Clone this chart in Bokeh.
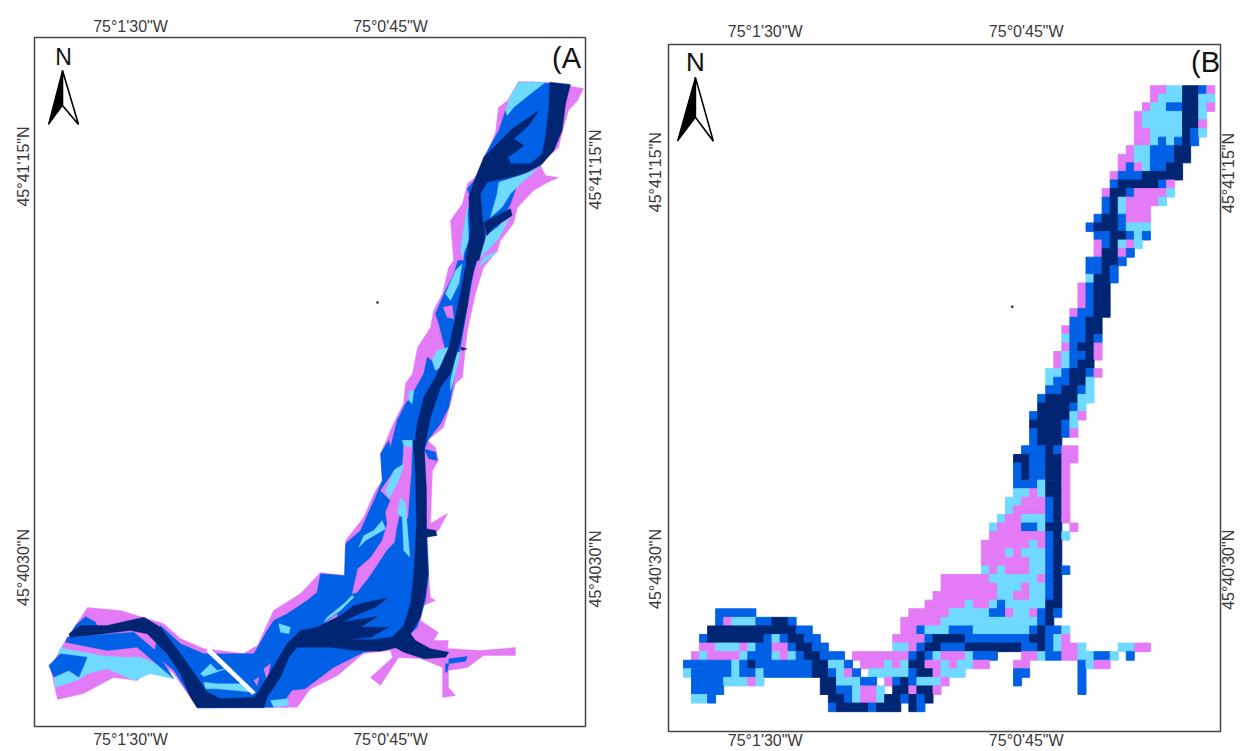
from bokeh.core.properties import value
from bokeh.embed import file_html
from bokeh.layouts import row, column
from bokeh.models import ColumnDataSource, FixedTicker, LinearAxis, Range1d
from bokeh.plotting import figure
from bokeh.resources import INLINE
import math

PINK, CYAN, BLUE, NAVY = "#E47BF6", "#70D9FF", "#0061E6", "#002673"
FONT = "Liberation Sans"
CLASS_COLOR = {"p": PINK, "c": CYAN, "b": BLUE, "n": NAVY}

A_LON_TICKS, A_LON_LABELS = [130, 390], ["75°1'30\"W", "75°0'45\"W"]
A_LAT_TICKS, A_LAT_LABELS = [166, 567], ["45°41'15\"N", "45°4030\"N"]
A_RIGHT_TICKS, A_RIGHT_LABELS = [209, 607], ["45°41'15\"N", "45°4030\"N"]
B_LON_TICKS, B_LON_LABELS = [765, 1027], ["75°1'30\"W", "75°0'45\"W"]
B_LAT_TICKS, B_LAT_LABELS = [172, 570], ["45°41'15\"N", "45°40'30\"N"]
B_RIGHT_TICKS, B_RIGHT_LABELS = [213, 611], ["45°41'15\"N", "45°40'30\"N"]


def crop(ox, oy, pts):
    return [(ox + x / 3, oy + y / 3) for x, y in pts]


def z2(pts): return crop(430, 60, pts)
def z3(pts): return crop(370, 250, pts)
def z4(pts): return crop(320, 440, pts)
def z5(pts): return crop(40, 590, pts)


# ---- Panel A: classified zones ----
A_SILHOUETTE = [(518,81),(550,82),(583,88),(577,100),(568,110),(563,127),(558,147),(547,157),(540,165),(545,175),(558,177),(547,182),(533,190),(517,207),(513,223),(500,240),(497,250),(483,267),(475,293),(467,330),(465,347),(462,377),(455,383),(450,403),(443,427),(427,440),(435,447),(438,460),(432,470),(430,523),(447,513),(438,530),(427,537),(428,573),(430,597),(435,600),(423,605),(420,620),(438,632),(433,640),(448,640),(447,648),(480,650),(515,647),(515,655),(483,655),(467,667),(448,670),(448,687),(455,695),(442,697),(442,667),(420,658),(398,657),(380,685),(370,677),(392,657),(390,650),(363,653),(337,675),(307,690),(287,707),(197,707),(187,693),(173,673),(157,660),(137,680),(113,677),(83,693),(57,699),(55,690),(50,667),(63,643),(83,613),(87,607),(120,610),(143,617),(163,623),(180,638),(203,648),(243,653),(257,645),(273,610),(300,593),(320,572),(344,575),(345,540),(363,517),(375,490),(382,480),(380,453),(393,423),(403,403),(405,383),(412,373),(417,347),(430,327),(433,310),(442,293),(448,267),(453,260),(450,220),(462,203),(467,183),(477,175),(495,132),(498,107),(507,100)]

A_BLUE_BODY = (
    z2([(300,65),(415,72),(405,130),(385,200),(365,270),(330,315),(270,345),(240,430),(215,480),(165,560),(140,600)])
    + z3([(310,60),(290,170),(270,290),(250,390),(235,470),(210,520),(175,565)])
    + z4([(310,30),(318,280),(325,400),(315,480),(290,560),(250,600),(210,625),(130,635),(40,680)])
    + z5([(800,290),(745,335),(700,350),(470,352),(445,310),(400,240),(340,190),(360,105),(420,160),(490,190),(600,190),(640,190),(680,120),(700,90),(740,70),(800,30),(830,5)])
    + z4([(0,400),(72,405),(75,310),(120,270),(165,170),(185,120),(180,40),(205,0)])
    + z3([(60,590),(80,510),(105,460),(120,440),(160,370),(170,320),(190,335),(225,300),(205,220),(195,190),(225,120),(250,70),(262,30)])
    + z2([(100,600),(105,500),(120,410),(110,385),(140,350),(160,290),(205,210),(225,150),(280,85)])
)

A_CYAN_PATCHES = [
    z2([(265,65),(345,65),(300,100),(250,140),(230,165),(225,150),(240,105)]),
    z2([(205,365),(270,345),(325,325),(280,360),(240,400),(215,440),(180,470),(200,400)]),
    z2([(100,500),(110,440),(115,540),(95,590),(90,570)]),
    z2([(160,530),(215,490),(240,470),(200,540),(150,590),(145,590)]),
    z3([(255,60),(275,40),(265,100),(240,150),(225,130)]),
    z3([(340,20),(385,0),(325,50)]),
    z3([(200,300),(235,290),(225,340),(195,360),(185,330)]),
    z3([(115,420),(130,420),(125,460),(115,450)]),
    z3([(100,570),(125,570),(125,590),(100,600)]),
    z3([(260,305),(270,305),(250,390),(240,420),(240,390)]),
    z4([(115,320),(130,285),(160,270),(185,240),(195,265),(170,280),(135,300)]),
    z4([(20,530),(70,490),(95,465),(100,470),(60,510),(10,545)]),
    z5([(480,250),(510,220),(530,240),(570,230),(490,258)]),
    z5([(490,275),(530,280),(620,280),(640,305),(530,295),(495,295)]),
    z5([(715,100),(750,110),(745,130),(720,125)]),
    z5([(60,170),(200,195),(300,200),(350,220),(400,265),(330,250),(280,270),(200,235),(140,250),(110,270),(45,290),(40,260),(55,190)]),
]

A_PINK_PATCHES = [
    z3([(218,170),(245,165),(250,205),(230,200)]),
    z4([(250,15),(275,20),(272,100),(268,145),(262,230),(255,240),(240,210),(228,265),(222,305),(198,330),(175,365),(145,410),(110,455),(95,460),(112,385),(150,352),(185,300),(200,250),(195,215),(210,180),(180,150),(215,100),(230,80),(245,85)]),
    z5([(70,165),(180,180),(190,195),(75,175)]),
    z5([(190,175),(280,195),(270,200),(190,195)]),
    z5([(280,145),(340,185),(290,160)]),
    z5([(640,270),(655,260),(650,285)]),
    z5([(670,235),(690,220),(680,270)]),
    z5([(850,100),(890,70),(890,80)]),
    z5([(755,300),(810,295),(770,350),(720,350)]),
]

A_SECOND_CYAN = [
    z4([(245,0),(275,0),(270,20),(250,15)]),
    z4([(220,90),(250,70),(235,120),(205,175),(195,150)]),
    z4([(240,170),(255,190),(262,280),(268,350),(250,330),(245,230),(230,220)]),
    z5([(690,330),(740,325),(745,345),(700,350)]),
]

A_BLUE_PATCHES = [
    z5([(105,105),(135,78),(165,95),(170,105),(90,130)]),
    z5([(80,140),(280,125),(345,180),(400,265),(290,170),(200,180),(75,155)]),
    z5([(25,225),(60,190),(140,200),(130,225),(115,260),(85,240),(40,260)]),
    z4([(310,25),(345,35),(350,60),(325,55)]),
    z4([(385,655),(440,648),(435,662),(385,670)]),
    z4([(375,670),(385,670),(380,695),(375,695)]),
]

A_NAVY = [
    z2([(358,65),(420,72),(405,130),(395,210),(370,270),(335,310),(290,335),(240,350),(170,365),(150,400),(155,470),(165,530),(145,600),(105,600),(120,510),(115,410),(135,350),(160,290),(175,282),(230,280),(240,310),(300,310),(335,280),(345,230),(355,140)]),
    z2([(160,290),(210,240),(245,205),(325,150),(295,195),(250,235),(280,255),(240,285),(180,285)]),
    z2([(160,485),(240,445),(245,465),(190,500),(170,525)]),
    z3([(295,0),(275,100),(255,200),(235,290),(195,380),(160,440),(140,520),(130,600),(160,600),(180,500),(210,410),(240,370),(270,270),(290,170),(300,100),(325,0)]),
    z3([(270,290),(290,295),(275,300)]),
    z4([(0,555),(60,525),(100,495),(140,485),(200,473),(165,500),(105,525),(65,545),(170,528),(120,560),(205,560),(150,590),(80,597),(150,598),(215,590),(250,555),(270,490),(280,400),(288,250),(285,100),(278,0),(310,0),(318,150),(318,290),(322,400),(315,460),(300,530),(270,580),(285,600),(330,625),(385,635),(375,650),(310,655),(250,635),(225,622),(180,632),(100,630),(0,615)]),
    z4([(318,265),(345,270),(350,285),(318,290)]),
    z5([(900,85),(830,110),(780,120),(740,160),(710,210),(680,260),(650,310),(640,320),(540,325),(500,305),(470,260),(420,190),(360,110),(310,80),(200,105),(120,105),(85,130),(90,140),(190,130),(270,120),(320,130),(380,190),(420,250),(450,320),(470,352),(670,352),(680,320),(720,260),(745,200),(770,170),(900,170)]),
]

A_STRIPE = z5([(500,175),(510,175),(645,305),(635,312),(500,185)])
A_DOT = [(377, 302)]

A_ARROW_LEFT = [(62,70),(48,124),(62,105)]
A_ARROW_RIGHT = [(62,70),(78,124),(62,105)]
B_ARROW_LEFT = [(695,77),(677,141),(695,117)]
B_ARROW_RIGHT = [(695,77),(713,141),(695,117)]

# ---- Panel B: classified raster, (first column, cells) for each row ----
B_X0, B_DX, B_Y0, B_DY = 683.0, 8.08, 85.3, 8.6
B_ROWS = [
    [(58,"ppccnnbp")],
    [(58,"pcccnncc")],
    [(57,"pccbbnncp")],
    [(56,"pcccccnnc")],
    [(56,"pcccccnnp")],
    [(56,"ppccccnbc")],
    [(56,"ppcbcbnb")],
    [(55,"pccbbbnn")],
    [(54,"ppccbbbnn")],
    [(54,"pbpcbbnn")],
    [(53,"pbbbnnnnn")],
    [(53,"bnnnnnbp")],
    [(52,"pnnbppppc")],
    [(52,"bncppppc")],
    [(52,"bncppp")],
    [(51,"bnnbppp")],
    [(50,"bnnnbccc")],
    [(51,"bbnnbcb")],
    [(51,"pbncpc")],
    [(51,"pnnpb")],
    [(50,"bbnnb")],
    [(50,"bbnb")],
    [(50,"cnnb")],
    [(49,"pbnn")],
    [(49,"pbnn")],
    [(49,"pbnn")],
    [(48,"pbbnn")],
    [(48,"bbnn")],
    [(47,"pbbnn")],
    [(47,"cbbnb")],
    [(47,"pbnnp")],
    [(46,"pcbbnp")],
    [(46,"pcbnn")],
    [(45,"ccbnnbp")],
    [(45,"cbbnnc")],
    [(45,"bbnnbc")],
    [(44,"bnnnncc")],
    [(44,"nnnnbc")],
    [(43,"bnnnncp")],
    [(43,"nnnnbc")],
    [(43,"bnnnbp")],
    [(43,"bnnn")],
    [(42,"bbbnbpp")],
    [(41,"nnbbnnpp")],
    [(41,"bnbbnnp")],
    [(41,"bnbbnnp")],
    [(41,"bbbcnnp")],
    [(41,"ccpcnnp")],
    [(40,"ccpppbnp")],
    [(40,"cppppbnp")],
    [(39,"cppcccbnp")],
    [(38,"cpppbbcnn"),(48,"p")],
    [(38,"pppppppbnc")],
    [(37,"ppppppcpbn")],
    [(37,"pppcpcccbn")],
    [(37,"ppppppccbn")],
    [(37,"cpcpppccbnb")],
    [(32,"ppppppccccccpbn")],
    [(32,"pppppppcccpccbn")],
    [(31,"ppppppppccppccbn")],
    [(30,"pppppcppcbcccccnn")],
    [(4,"bbbbb"),(28,"pppppcccccbbpccpbnb")],
    [(4,"bpcccbbnnb"),(27,"pppppccccccccccccbn")],
    [(3,"nnnnnnnnnnnbb"),(27,"ppbcccbbbcccccccbnbbc")],
    [(2,"bnnnnnnnbcbnnbb"),(26,"ppppbnnnnbbbbbbbbnnbcp")],
    [(2,"ppcccpcbbppbnnbb"),(26,"ccpbnnbbbnnnnnnnbbnbcppc"),(54,"ccpp")],
    [(1,"pcppppcbbbcpcbnnbbb"),(21,"ppppppp"),(28,"bnbcpppcbbb"),(42,"ppcbbppccbbc"),(55,"b")],
    [(0,"bbbbbbcbnbbbbbbbnncc"),(20,"b"),(22,"pppcpcnnppcpccpp"),(41,"pp"),(49,"bcpp")],
    [(0,"cbbbbbcbbcbbbbbbnnbcpb"),(23,"cccccbnnpccc"),(41,"bb"),(49,"b")],
    [(1,"bbbbcccpc"),(17,"nnccc"),(22,"bb"),(25,"pbnbcccp"),(41,"b"),(49,"b")],
    [(1,"bbbb"),(17,"nnbbcpp"),(24,"c"),(26,"nnpnnp"),(49,"b")],
    [(1,"ccb"),(18,"nnbcppc"),(25,"nnbnbn")],
    [(18,"bnnnnbnnn"),(28,"nb")],
]
B_DOT = [(1013, 307)]

PANEL_A_LABEL, PANEL_B_LABEL = "(A", "(B"


def xy(pts):
    return [p[0] for p in pts], [p[1] for p in pts]


def build(width, height, borders, xr, yr, lon_t, lon_l, lat_t, lat_l, rt, rl, stand):
    p = figure(width=width, height=height, output_backend="svg", toolbar_location=None,
               x_range=Range1d(*xr), y_range=Range1d(*yr),
               min_border_left=borders[0], min_border_right=borders[1],
               min_border_top=borders[2], min_border_bottom=borders[3],
               x_axis_type=None, y_axis_type=None)
    p.grid.visible = False
    p.outline_line_color = "#444444"
    p.outline_line_width = 1.5
    for side, ticks, labels, sd in (("below", lon_t, lon_l, stand[0]), ("above", lon_t, lon_l, stand[1]),
                                    ("left", lat_t, lat_l, stand[2]), ("right", rt, rl, stand[3])):
        ax = LinearAxis(ticker=FixedTicker(ticks=ticks),
                        major_label_overrides={t: s for t, s in zip(ticks, labels)})
        ax.axis_line_color = None
        ax.major_tick_line_color = None
        ax.minor_tick_line_color = None
        ax.major_tick_in = 0
        ax.major_tick_out = 0
        ax.major_label_standoff = sd
        ax.major_label_text_font = FONT
        ax.major_label_text_font_size = "16px"
        ax.major_label_text_line_height = 1.0
        ax.major_label_text_color = "#3a3a3a"
        if side == "left":
            ax.major_label_orientation = "vertical"
        if side == "right":
            ax.major_label_orientation = math.pi / 2
        p.add_layout(ax, side)
    return p


def patches(p, polys, color, line=0.4):
    p.patches([xy(q)[0] for q in polys], [xy(q)[1] for q in polys],
              fill_color=color, line_color=color, line_width=line)


def arrow(p, left, right):
    p.patch(*xy(left), fill_color="black", line_color="black", line_width=1.2)
    p.patch(*xy(right), fill_color="white", line_color="black", line_width=1.6)


def label(p, x, y, s, size):
    p.text([x], [y], text=[s], text_font=value(FONT), text_font_size=size, text_color="#111111",
           text_align="center", text_baseline="middle")


pa = build(620, 751, (34, 35, 37, 25), (34, 585), (726, 37), A_LON_TICKS, A_LON_LABELS, A_LAT_TICKS, A_LAT_LABELS,
           A_RIGHT_TICKS, A_RIGHT_LABELS, (4, 3, 3, 10))
patches(pa, [A_SILHOUETTE], PINK)
patches(pa, [A_BLUE_BODY], BLUE)
patches(pa, A_CYAN_PATCHES, CYAN)
patches(pa, A_PINK_PATCHES, PINK)
patches(pa, A_SECOND_CYAN, CYAN)
patches(pa, A_BLUE_PATCHES, BLUE)
patches(pa, A_NAVY, NAVY)
patches(pa, [A_STRIPE], "#ffffff")
pa.scatter(*xy(A_DOT), size=2, color="#444444")
arrow(pa, A_ARROW_LEFT, A_ARROW_RIGHT)
label(pa, 63, 56, "N", "23px")
label(pa, 566, 57, PANEL_A_LABEL, "29px")

pb = build(628, 744, (48, 20, 37, 18), (668, 1222), (733, 44), B_LON_TICKS, B_LON_LABELS, B_LAT_TICKS, B_LAT_LABELS,
           B_RIGHT_TICKS, B_RIGHT_LABELS, (0, 5, 4, 8))
pb.margin = (7, 0, 0, 0)
left, right, top, bottom, fill = [], [], [], [], []
for r, runs in enumerate(B_ROWS):
    for start, cells in runs:
        i = 0
        while i < len(cells):
            j = i
            while j < len(cells) and cells[j] == cells[i]:
                j += 1
            left.append(B_X0 + B_DX * (start + i))
            right.append(B_X0 + B_DX * (start + j))
            top.append(B_Y0 + B_DY * r)
            bottom.append(B_Y0 + B_DY * (r + 1))
            fill.append(CLASS_COLOR[cells[i]])
            i = j
src = ColumnDataSource(dict(left=left, right=right, top=top, bottom=bottom, fill=fill))
pb.quad(left="left", right="right", top="top", bottom="bottom", source=src,
        fill_color="fill", line_color="fill", line_width=0.9)
pb.scatter(*xy(B_DOT), size=2, color="#444444")
arrow(pb, B_ARROW_LEFT, B_ARROW_RIGHT)
label(pb, 695, 62, "N", "26px")
label(pb, 1207, 62, PANEL_B_LABEL, "29px")

page = row(column(pa), column(pb), spacing=0)
open("out.html", "w").write(file_html(page, INLINE))
